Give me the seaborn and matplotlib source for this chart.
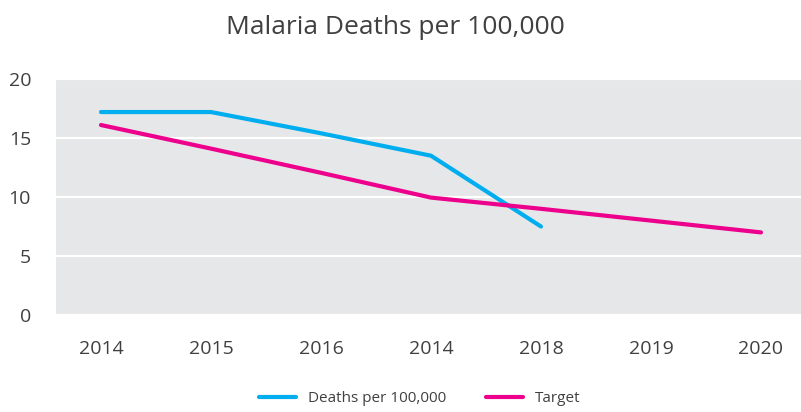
import matplotlib
matplotlib.use("Agg")
import matplotlib.pyplot as plt
import seaborn as sns
import pandas as pd
import numpy as np

years = ["2014", "2015", "2016", "2014", "2018", "2019", "2020"]
deaths = [17.2, 17.2, 15.4, 13.5, 7.5, None, None]
target = [16.1, 14.1, 12.05, 9.95, 9.0, 8.0, 7.0]

sns.set_theme(style="darkgrid")
plt.rcParams['font.family'] = ['Open Sans', 'DejaVu Sans']

text_col = "#404041"
pos = np.arange(len(years))
df = pd.concat([
    pd.DataFrame({"pos": pos, "value": deaths, "series": "Deaths per 100,000"}),
    pd.DataFrame({"pos": pos, "value": target, "series": "Target"}),
]).dropna()

fig = plt.figure(figsize=(8.01, 4.12), dpi=100)
ax = fig.add_axes([56/801, 1-315/412, 1-56/801, (315-79)/412])
ax.set_facecolor("#E6E7E8")
sns.lineplot(data=df, x="pos", y="value", hue="series",
             palette={"Deaths per 100,000": "#00AEEF", "Target": "#EC008C"},
             linewidth=3, ax=ax, legend=True, sort=False)
for l in ax.lines:
    l.set_solid_capstyle("round")

ax.set_xlim(-0.409, 6.364)
ax.set_ylim(0, 20)
ax.set_yticks([0, 5, 10, 15, 20])
ax.set_xticks(pos)
ax.set_xticklabels(years)
ax.grid(axis="x", visible=False)
ax.grid(axis="y", color="white", linewidth=1.5)
for s in ax.spines.values():
    s.set_visible(False)
ax.tick_params(axis="y", length=0, pad=18, labelsize=14, labelcolor=text_col)
ax.tick_params(axis="x", length=0, pad=18, labelsize=14, labelcolor=text_col)
ax.set_xlabel("")
ax.set_ylabel("")

fig.text(395/801, 1-28/412, "Malaria Deaths per 100,000", ha="center", va="center",
         fontsize=19, color=text_col)

leg = ax.legend(loc="center", bbox_to_anchor=(420/801, 1-399/412), bbox_transform=fig.transFigure,
                ncol=2, frameon=False, fontsize=11, handlelength=2.4, columnspacing=2.6,
                handletextpad=0.8)
for t in leg.get_texts():
    t.set_color(text_col)

fig.savefig("out.png", dpi=100)
